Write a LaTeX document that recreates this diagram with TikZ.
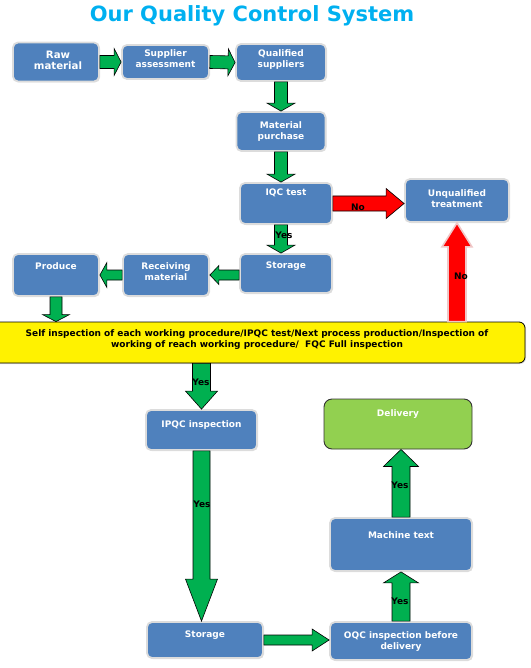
\documentclass[tikz,border=0pt]{standalone}
\usepackage{fontspec}
\setmainfont{DejaVu Sans}
\usetikzlibrary{calc,shadows}
\definecolor{boxblue}{HTML}{4F81BD}
\definecolor{arrgreen}{HTML}{00B050}
\definecolor{titleblue}{HTML}{00B0F0}
\definecolor{delgreen}{HTML}{92D050}
\definecolor{boxedge}{HTML}{DCDCDC}
\definecolor{pinkedge}{HTML}{EFC8C8}
\newcommand\blockarrow[6]{%
  \coordinate (bahead) at ($(#3)!#6!(#2)$);
  \path[#1] ($(#2)!#4!90:(#3)$) -- ($(bahead)!#4!90:(#3)$) -- ($(bahead)!#5!90:(#3)$) -- (#3)
    -- ($(bahead)!#5!-90:(#3)$) -- ($(bahead)!#4!-90:(#3)$) -- ($(#2)!#4!-90:(#3)$) -- cycle;
}
\newcommand\boxtext[3]{%
  \node[txt] (#1t) at ([yshift=-#2]#1.north) {#3};
}
\begin{document}
\begin{tikzpicture}[x=1pt,y=-1pt,
  box/.style={rectangle, rounded corners=5pt, fill=boxblue, draw=boxedge, line width=1.8pt,
    drop shadow={opacity=0.25, shadow xshift=1pt, shadow yshift=-1pt}},
  txt/.style={font=\bfseries\fontsize{9}{11.5}\selectfont, text=white, align=center, inner sep=0pt, anchor=north},
  lbl/.style={font=\bfseries\fontsize{9}{11}\selectfont, text=black, inner sep=0pt},
  garrow/.style={fill=arrgreen, draw=black, line width=0.6pt, line join=miter},
  rarrow/.style={fill=red, draw=black, line width=0.6pt, line join=miter},
  parrow/.style={fill=red, draw=pinkedge, line width=1.6pt, line join=miter}]
\useasboundingbox (0,0) rectangle (530,668);

\node[font=\bfseries\fontsize{21}{24}\selectfont, text=titleblue, anchor=base] (title) at (252,22) {Our Quality Control System};

% boxes
\node[box, minimum width=86pt, minimum height=39pt] (rm) at (56,62) {};
\node[box, minimum width=87pt, minimum height=34pt] (sa) at (165.5,62) {};
\node[box, minimum width=90pt, minimum height=37pt] (qs) at (281,62.5) {};
\node[box, minimum width=89pt, minimum height=39pt] (mp) at (281,131.5) {};
\node[box, minimum width=92pt, minimum height=41pt] (iqc) at (286,203.5) {};
\node[box, minimum width=104pt, minimum height=43pt] (unq) at (457,200.5) {};
\node[box, minimum width=92pt, minimum height=39pt] (st1) at (286,273.5) {};
\node[box, minimum width=86pt, minimum height=42pt] (rec) at (166,275) {};
\node[box, minimum width=86pt, minimum height=42pt] (pro) at (56,275) {};
\node[rectangle, rounded corners=6pt, fill=yellow, draw=black, line width=0.8pt,
  drop shadow={opacity=0.25, shadow xshift=1pt, shadow yshift=-1pt},
  minimum width=532pt, minimum height=41pt] (yel) at (259,342.5) {};
\node[box, minimum width=111pt, minimum height=40pt] (ipqc) at (201.5,430) {};
\node[box, minimum width=116pt, minimum height=36pt] (st2) at (205,640) {};
\node[box, minimum width=142pt, minimum height=38pt] (oqc) at (401,641) {};
\node[box, minimum width=142pt, minimum height=53pt] (mac) at (401,544.5) {};
\node[rectangle, rounded corners=8pt, fill=delgreen, draw=black!80, line width=0.9pt,
  minimum width=148pt, minimum height=50pt] (del) at (398,424) {};

% box texts
\node[txt, font=\bfseries\fontsize{10.2}{11.5}\selectfont] (rmt) at ([xshift=2pt,yshift=-9pt]rm.north) {Raw\\material};
\boxtext{sa}{5pt}{Supplier\\assessment}
\boxtext{qs}{6pt}{Qualified\\suppliers}
\boxtext{mp}{10pt}{Material\\purchase}
\boxtext{iqc}{7pt}{IQC test}
\boxtext{unq}{11pt}{Unqualified\\treatment}
\boxtext{st1}{9pt}{Storage}
\boxtext{rec}{9pt}{Receiving\\material}
\boxtext{pro}{9pt}{Produce}
\node[txt, text=black] (yelt) at (257,329) {Self inspection of each working procedure/IPQC test/Next process production/Inspection of\\working of reach working procedure/\ \ FQC Full inspection};
\boxtext{ipqc}{11pt}{IPQC inspection}
\boxtext{st2}{10pt}{Storage}
\boxtext{oqc}{10pt}{OQC inspection before\\delivery}
\boxtext{mac}{14pt}{Machine text}
\boxtext{del}{11pt}{Delivery}

% connector end points
\coordinate (a5s) at (iqc.south -| mp.south);
\coordinate (a5e) at (st1.north -| mp.south);
\coordinate (a4e) at (iqc.north -| mp.south);
\coordinate (a6e) at (unq.west |- iqc.east);
\coordinate (a7s) at (yel.north -| unq.south);
\coordinate (a8s) at (st1.west |- rec.east);
\coordinate (a10e) at (yel.north -| pro.south);
\coordinate (a11s) at (yel.south -| ipqc.north);
\coordinate (a12e) at (st2.north -| ipqc.south);
\coordinate (a13e) at (oqc.west |- st2.east);
\coordinate (a15e) at (del.south -| mac.north);

% arrows
\blockarrow{garrow}{rm.east}{sa.west}{6.5pt}{13.5pt}{7pt}
\blockarrow{garrow}{sa.east}{qs.west}{6.5pt}{13.5pt}{7pt}
\blockarrow{garrow}{qs.south}{mp.north}{6.5pt}{14pt}{8pt}
\blockarrow{garrow}{mp.south}{a4e}{6.5pt}{14pt}{8pt}
\blockarrow{garrow}{a5s}{a5e}{6.5pt}{14pt}{8pt}
\blockarrow{rarrow}{iqc.east}{a6e}{7.5pt}{15pt}{18pt}
\blockarrow{parrow}{a7s}{unq.south}{9pt}{15pt}{24pt}
\blockarrow{garrow}{a8s}{rec.east}{5pt}{9.5pt}{9pt}
\blockarrow{garrow}{rec.west}{pro.east}{5pt}{12.5pt}{7pt}
\blockarrow{garrow}{pro.south}{a10e}{6pt}{13.5pt}{7pt}
\blockarrow{garrow}{a11s}{ipqc.north}{9pt}{16pt}{18pt}
\blockarrow{garrow}{ipqc.south}{a12e}{8.5pt}{16pt}{42pt}
\blockarrow{garrow}{st2.east}{a13e}{5pt}{11pt}{17pt}
\blockarrow{garrow}{oqc.north}{mac.south}{9pt}{17.5pt}{11pt}
\blockarrow{garrow}{mac.north}{a15e}{9pt}{17.5pt}{17pt}

% labels
\node[lbl] (y1) at (284,235) {Yes};
\node[lbl] (n1) at (358,207) {No};
\node[lbl] (n2) at (461,276) {No};
\node[lbl] (y2) at (201,382) {Yes};
\node[lbl] (y3) at (202,504) {Yes};
\node[lbl] (y4) at (400,485) {Yes};
\node[lbl] (y5) at (400,601) {Yes};
\end{tikzpicture}
\end{document}
